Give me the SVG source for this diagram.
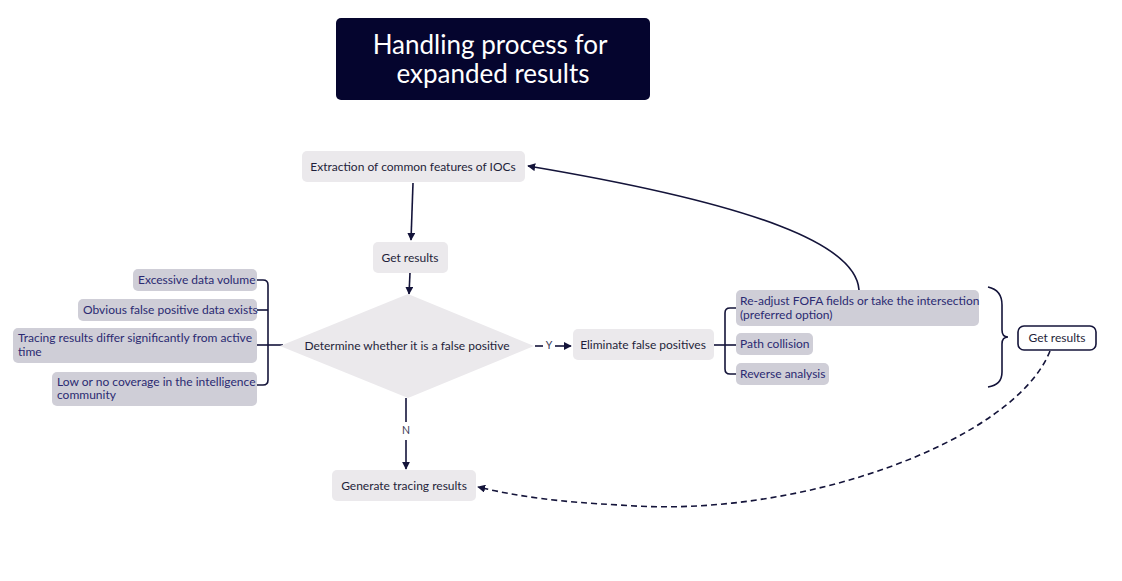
<svg xmlns="http://www.w3.org/2000/svg" width="1122" height="581" viewBox="0 0 1122 581">
<defs>
<marker id="arr" viewBox="0 0 10 10" refX="9" refY="5" markerWidth="8" markerHeight="8" markerUnits="userSpaceOnUse" orient="auto">
<path d="M0,0 L10,5 L0,10 z" fill="#14143a"/>
</marker>
</defs>
<style>
text{font-family:Lato,"Noto Sans",sans-serif;}
.node{fill:#ebe9ec;}
.item{fill:#cfced7;}
.t{font-size:12px;fill:#1f1f3a;text-anchor:middle;dominant-baseline:central;}
.it{font-size:12px;fill:#2b2a72;dominant-baseline:central;}
.ln{fill:none;stroke:#14143a;stroke-width:1.6;}
.lbl{font-size:10.5px;fill:#3a3a55;text-anchor:middle;dominant-baseline:central;}
</style>
<rect width="1122" height="581" fill="#ffffff"/>
<g id="title">
<rect x="336" y="18" width="314" height="82" rx="5" fill="#05052e"/>
<text x="490" y="44" font-size="26" fill="#ffffff" text-anchor="middle" dominant-baseline="central">Handling process for</text>
<text x="493" y="73" font-size="26" fill="#ffffff" text-anchor="middle" dominant-baseline="central">expanded results</text>
</g>
<g id="connectors">
<path class="ln" d="M413,183 L411,240" marker-end="url(#arr)"/>
<path class="ln" d="M410,273 L409,294" marker-end="url(#arr)"/>
<path class="ln" d="M406,398 V422"/>
<text class="lbl" x="406" y="430">N</text>
<path class="ln" d="M406,440 V469" marker-end="url(#arr)"/>
<path class="ln" d="M535,346 H543"/>
<text class="lbl" x="549" y="345">Y</text>
<path class="ln" d="M555,346 H571" marker-end="url(#arr)"/>
<path class="ln" d="M257,280 H263 Q268,280 268,285 V380 Q268,385 263,385 H257"/>
<path class="ln" d="M257,310 H268"/>
<path class="ln" d="M257,345 H283"/>
<path class="ln" d="M714,345 H736"/>
<path class="ln" d="M736,308 H730 Q725,308 725,313 V369 Q725,374 730,374 H736"/>
<path class="ln" d="M988,287 Q1002,290 1002,305 V330 Q1002,337 1008,337 Q1002,337 1002,344 V372 Q1002,385 988,387"/>
<path class="ln" d="M859,290 C856,245 760,205 528,166" marker-end="url(#arr)"/>
<path class="ln" d="M1050,351 C1015,440 800,520 620,505 C560,502 520,497 478,487" stroke-dasharray="6,4" marker-end="url(#arr)"/>
</g>
<g id="extraction">
<rect class="node" x="302" y="151" width="223" height="31" rx="5"/>
<text class="t" x="413" y="166">Extraction of common features of IOCs</text>
</g>
<g id="get-results-1">
<rect class="node" x="373" y="242" width="75" height="31" rx="5"/>
<text class="t" x="410" y="257">Get results</text>
</g>
<g id="determine">
<polygon class="node" points="408,294 534,346 408,398 280,346"/>
<text class="t" x="407" y="345">Determine whether it is a false positive</text>
</g>
<g id="eliminate">
<rect class="node" x="573" y="329" width="141" height="31" rx="5"/>
<text class="t" x="643" y="344">Eliminate false positives</text>
</g>
<g id="generate">
<rect class="node" x="332" y="470" width="144" height="31" rx="5"/>
<text class="t" x="404" y="485">Generate tracing results</text>
</g>
<g id="item-excessive">
<rect class="item" x="133" y="269" width="124" height="22" rx="5"/>
<text class="it" x="138" y="279">Excessive data volume</text>
</g>
<g id="item-obvious">
<rect class="item" x="78" y="299" width="179" height="22" rx="5"/>
<text class="it" x="83" y="309">Obvious false positive data exists</text>
</g>
<g id="item-tracing">
<rect class="item" x="13" y="328" width="244" height="35" rx="5"/>
<text class="it" x="18" y="337">Tracing results differ significantly from active</text>
<text class="it" x="18" y="351">time</text>
</g>
<g id="item-low">
<rect class="item" x="52" y="372" width="205" height="34" rx="5"/>
<text class="it" x="57" y="381">Low or no coverage in the intelligence</text>
<text class="it" x="57" y="394">community</text>
</g>
<g id="item-readjust">
<rect class="item" x="736" y="290" width="243" height="36" rx="5"/>
<text class="it" x="740" y="300">Re-adjust FOFA fields or take the intersection</text>
<text class="it" x="740" y="314">(preferred option)</text>
</g>
<g id="item-path">
<rect class="item" x="736" y="333" width="77" height="22" rx="5"/>
<text class="it" x="740" y="343">Path collision</text>
</g>
<g id="item-reverse">
<rect class="item" x="736" y="363" width="93" height="22" rx="5"/>
<text class="it" x="740" y="373">Reverse analysis</text>
</g>
<g id="get-results-2">
<rect x="1018" y="326" width="78" height="24" rx="6" fill="#ffffff" stroke="#14143a" stroke-width="1.6"/>
<text class="t" x="1057" y="337">Get results</text>
</g>
</svg>
